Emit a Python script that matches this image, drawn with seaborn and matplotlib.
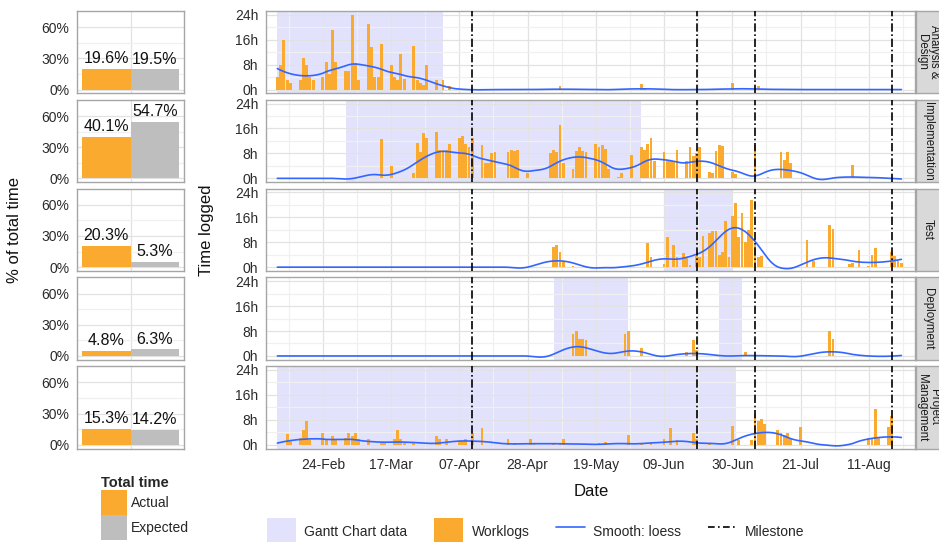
import numpy as np
import pandas as pd
import matplotlib
matplotlib.use("Agg")
import matplotlib.pyplot as plt
import matplotlib.dates as mdates
from matplotlib.ticker import FixedLocator, NullFormatter
from matplotlib.patches import Patch
from matplotlib.lines import Line2D
import seaborn as sns

# ---------------------------------------------------------------- data
PHASES = ["Analysis &\nDesign", "Implementation", "Test", "Deployment", "Project\nManagement"]
ACTUAL_PCT = [19.6, 40.1, 20.3, 4.8, 15.3]
EXPECTED_PCT = [19.5, 54.7, 5.3, 6.3, 14.2]
TOTAL_KINDS = ["Actual", "Expected"]

DATE_TICKS = ["2014-02-24", "2014-03-17", "2014-04-07", "2014-04-28", "2014-05-19",
              "2014-06-09", "2014-06-30", "2014-07-21", "2014-08-11"]
HOUR_TICKS = [0, 8, 16, 24]
PCT_TICKS = [0, 30, 60]

REF_DAY = "2014-02-24"          # worklog day offsets are counted from this date
FIRST_OFFSET, LAST_OFFSET = -14, 178   # logged period: 2014-02-10 .. 2014-08-21
MILESTONES = ["2014-04-11", "2014-06-19", "2014-07-07", "2014-08-18"]

GANTT_START = [["2014-02-10"], ["2014-03-03"], ["2014-06-09"],
               ["2014-05-06", "2014-06-26"], ["2014-02-10"]]
GANTT_END = [["2014-04-02"], ["2014-06-02"], ["2014-06-30"],
             ["2014-05-29", "2014-07-03"], ["2014-07-01"]]

AD_DAYS = [-14, -13, -12, -11, -10, -7, -6, -5, -4, -3, 0, 1, 2, 3, 4, 7, 8, 9, 10, 11,
           14, 15, 16, 17, 18, 21, 22, 23, 24, 25, 28, 29, 30, 31, 32, 35, 37, 39,
           73, 98, 99, 126, 134]
AD_HOURS = [4, 8, 16, 3, 2, 3, 10, 8, 4, 3, 4, 9, 5, 19, 9, 6, 6, 24, 8.5, 3,
            21, 13.5, 4, 4, 14.5, 8, 4, 3, 11.5, 3.5, 14, 3, 2, 1.5, 8, 3, 3, 1.3,
            1.2, 1.8, 0.6, 2.0, 1.3]

IMPL_DAYS = [18, 21, 28, 29, 30, 31, 32, 35, 36, 37, 38, 39, 42, 43, 44, 45, 46,
             49, 50, 51, 52, 53, 57, 58, 59, 60, 63, 70, 71, 72, 73, 74,
             77, 78, 79, 80, 81, 84, 85, 86, 87, 88, 91, 92, 95,
             98, 99, 100, 101, 102, 105, 106, 107, 108, 109, 112, 113, 114, 115, 116,
             119, 120, 121, 122, 123, 126, 127, 133, 137, 141, 142, 143, 144, 163]
IMPL_HOURS = [12.5, 4, 1.6, 11.2, 8.3, 14.7, 13, 15, 9, 9, 9, 11, 13, 13.5, 11, 10, 13,
              10.8, 5, 5, 8, 8.3, 8.6, 9, 8.8, 9, 1.6, 8, 9, 8.5, 17, 5,
              3, 8.8, 10.2, 8.8, 8.3, 11, 10, 10.8, 9.5, 3, 0.5, 1.6, 7.6,
              10, 9, 11, 13, 5.7, 8.6, 5.5, 5.7, 5.7, 9, 5.7, 10, 7.3, 8, 10,
              2.2, 1.6, 8.8, 10.8, 10.5, 2.2, 1.4, 10.8, 0.5, 8.6, 6, 8.6, 5, 4.4]

TEST_DAYS = [71, 72, 73, 74, 77, 100, 101, 105, 106, 108, 109, 111, 112, 113,
             115, 116, 117, 119, 120, 121, 122, 123, 124, 125, 126, 127, 128, 129, 130,
             131, 132, 133, 134, 135, 149, 151, 156, 157, 162, 163, 165,
             168, 169, 170, 175, 176, 177, 178]
TEST_HOURS = [6.4, 7.1, 4.8, 2.0, 0.5, 7.9, 3.4, 0.9, 9.6, 7.1, 3.4, 4.5, 3.0, 0.8,
              3.6, 3.2, 10.1, 10.8, 11.5, 11.7, 4.0, 4.8, 14.7, 3.4, 16.5, 20.5, 9.6, 17.3, 8.0,
              11.8, 21.5, 7.0, 3.2, 3.7, 8.7, 2.1, 13.6, 12.3, 0.9, 1.3, 5.5,
              0.3, 4.0, 6.0, 5.0, 3.7, 2.0, 1.3]

DEPLOY_DAYS = [77, 78, 79, 80, 81, 93, 94, 98, 112, 114, 115, 130, 156, 157]
DEPLOY_HOURS = [7.1, 7.9, 5.5, 5.5, 5.2, 6.9, 7.9, 2.7, 1.3, 5.0, 1.8, 1.3, 7.9, 5.5]

PM_DAYS = [-11, -10, -7, -6, -5, -4, 0, 1, 3, 4, 7, 8, 9, 10, 11, 14, 18, 19,
           22, 23, 24, 25, 28, 35, 36, 38, 42, 43, 44, 46, 49, 57, 59, 64, 65,
           71, 73, 74, 80, 85, 87, 94, 98, 101, 105, 107, 109, 114, 115, 119,
           126, 128, 132, 133, 134, 135, 136, 140, 141, 142, 143, 144, 147,
           168, 169, 170, 171, 174, 175]
PM_HOURS = [3.6, 1.3, 2.3, 4.8, 7.7, 1.5, 3.9, 1.5, 2.9, 1.5, 2.3, 3.9, 2.9, 3.9, 2.0, 1.8, 0.7, 0.7,
            1.8, 4.8, 1.8, 0.7, 0.7, 2.9, 1.8, 1.8, 1.3, 1.3, 1.8, 3.9, 5.5, 1.8, 0.7, 1.8, 0.7,
            0.7, 0.7, 1.8, 0.4, 0.7, 1.0, 3.2, 0.7, 0.7, 1.8, 5.5, 1.6, 3.9, 1.8, 0.7,
            6.0, 1.6, 1.6, 9.8, 7.7, 8.4, 6.6, 4.8, 3.9, 3.2, 3.9, 2.3, 5.8,
            2.3, 2.3, 11.4, 2.3, 5.8, 9.3]

WORK_DAYS = [AD_DAYS, IMPL_DAYS, TEST_DAYS, DEPLOY_DAYS, PM_DAYS]
WORK_HOURS = [AD_HOURS, IMPL_HOURS, TEST_HOURS, DEPLOY_HOURS, PM_HOURS]

# ---------------------------------------------------------------- style
ORANGE = "#FBAA30"
GREY = "#BEBEBE"
GANTT_RGBA = (0.25, 0.25, 0.92, 0.15)
SMOOTH = "#3366FF"
BORDER = "#A6A6A6"
TXT = "#2B2B2B"
DASHDOT = (0, (5, 1.6, 1, 1.6))

sns.set_theme(style="white")
plt.rcParams["font.family"] = ["Liberation Sans", "DejaVu Sans"]

W, H = 939, 542
fig = plt.figure(figsize=(W / 100, H / 100), dpi=100)


def rect(x0, y0, x1, y1):
    return [x0 / W, 1 - y1 / H, (x1 - x0) / W, (y1 - y0) / H]


ROW_TOP = [11, 99.8, 188.6, 277.4, 366.2]
ROW_H = 82.3
LEFT_X = (77, 184)
RIGHT_X = (266, 915)
STRIP_X = (916, 940)


def loess(x, y, span=0.17, degree=2):
    n = len(x)
    q = max(int(np.floor(span * n)), degree + 2)
    out = np.empty(n)
    for i, x0 in enumerate(x):
        d = np.abs(x - x0)
        h = np.sort(d)[q - 1] * 1.0001
        w = np.clip(1 - (d / h) ** 3, 0, None) ** 3
        coef = np.polyfit(x - x0, y, degree, w=np.sqrt(w))
        out[i] = coef[-1]
    return out


def style_panel(ax):
    ax.set_facecolor("white")
    for s in ax.spines.values():
        s.set_color(BORDER)
        s.set_linewidth(1.0)
    ax.set_axisbelow(True)
    ax.grid(which="major", color="#E2E2E2", lw=0.9)
    ax.grid(which="minor", color="#F0F0F0", lw=0.9)
    ax.tick_params(which="major", length=3.5, width=0.8, color="#333333",
                   labelsize=10, labelcolor=TXT, pad=2)
    ax.tick_params(which="minor", length=0)
    ax.set_xlabel("")
    ax.set_ylabel("")


base = mdates.date2num(pd.Timestamp(REF_DAY))
all_offsets = np.arange(FIRST_OFFSET, LAST_OFFSET + 1)
all_x = base + all_offsets
tick_x = [mdates.date2num(pd.Timestamp(d)) for d in DATE_TICKS]
minor_x = [t - 10.5 for t in tick_x] + [tick_x[-1] + 10.5]

for i, phase in enumerate(PHASES):
    top = ROW_TOP[i]
    bottom_row = i == len(PHASES) - 1

    # ---------------- left: share of total time
    axl = fig.add_axes(rect(LEFT_X[0], top, LEFT_X[1], top + ROW_H))
    df = pd.DataFrame({"grp": ["", ""], "kind": TOTAL_KINDS,
                       "pct": [ACTUAL_PCT[i] / 100, EXPECTED_PCT[i] / 100]})
    sns.barplot(data=df, x="grp", y="pct", hue="kind", palette=[ORANGE, GREY],
                hue_order=TOTAL_KINDS, width=1.0, saturation=1, legend=False,
                linewidth=0, ax=axl)
    style_panel(axl)
    for p in axl.patches:
        axl.annotate(f"{p.get_height() * 100:.1f}%",
                     (p.get_x() + p.get_width() / 2, p.get_height()),
                     xytext=(0, 2), textcoords="offset points",
                     ha="center", va="bottom", fontsize=11.5, color="#111111")
    axl.set_xlim(-0.55, 0.55)
    axl.set_ylim(-0.036, 0.756)
    axl.set_yticks([t / 100 for t in PCT_TICKS])
    axl.set_yticklabels([f"{t}%" for t in PCT_TICKS])
    axl.yaxis.set_minor_locator(FixedLocator([0.15, 0.45]))
    axl.set_xticks([0])
    axl.set_xticklabels([""])
    if not bottom_row:
        axl.tick_params(axis="x", which="major", length=0)
    axl.tick_params(axis="y", labelsize=10)

    # ---------------- right: daily worklogs
    axr = fig.add_axes(rect(RIGHT_X[0], top, RIGHT_X[1], top + ROW_H))
    for gs, ge in zip(GANTT_START[i], GANTT_END[i]):
        axr.axvspan(mdates.date2num(pd.Timestamp(gs)), mdates.date2num(pd.Timestamp(ge)),
                    color=GANTT_RGBA, lw=0, zorder=0.5)
    wx = base + np.array(WORK_DAYS[i], dtype=float)
    sns.histplot(x=wx, weights=WORK_HOURS[i], discrete=True, shrink=0.85,
                 color=ORANGE, alpha=1, linewidth=0, ax=axr, zorder=2)

    daily = pd.Series(0.0, index=all_offsets)
    daily.loc[WORK_DAYS[i]] = WORK_HOURS[i]
    sm = loess(all_x.astype(float), daily.values, span=0.17)
    sns.lineplot(x=all_x, y=sm, color=SMOOTH, lw=1.2, ax=axr, zorder=3)

    for m in MILESTONES:
        axr.axvline(mdates.date2num(pd.Timestamp(m)), color="black", lw=1.2,
                    linestyle=DASHDOT, zorder=4)

    style_panel(axr)
    axr.set_xlim(base - 17.5, base + 182.2)
    axr.set_ylim(-1.2, 25.2)
    axr.set_yticks(HOUR_TICKS)
    axr.set_yticklabels([f"{h}h" for h in HOUR_TICKS])
    axr.yaxis.set_minor_locator(FixedLocator([4, 12, 20]))
    axr.xaxis.set_major_locator(FixedLocator(tick_x))
    axr.xaxis.set_minor_locator(FixedLocator(minor_x))
    if bottom_row:
        axr.xaxis.set_major_formatter(mdates.DateFormatter("%d-%b"))
        axr.tick_params(axis="x", labelsize=10, pad=3)
    else:
        axr.xaxis.set_major_formatter(NullFormatter())
        axr.tick_params(axis="x", which="major", length=0)

    # ---------------- facet strip
    axs = fig.add_axes(rect(STRIP_X[0], top, STRIP_X[1], top + ROW_H))
    axs.set_facecolor("#D9D9D9")
    for s in axs.spines.values():
        s.set_color(BORDER)
        s.set_linewidth(1.0)
    axs.set_xticks([])
    axs.set_yticks([])
    axs.text(0.5, 0.5, phase, rotation=270, ha="center", va="center",
             transform=axs.transAxes, fontsize=8.3, color="#1A1A1A",
             linespacing=1.0, multialignment="center", clip_on=True)

# ---------------------------------------------------------------- titles
fig.text(15 / W, 1 - 230 / H, "% of total time", rotation=90, ha="center", va="center",
         fontsize=12, color="#111111")
fig.text(207 / W, 1 - 230 / H, "Time logged", rotation=90, ha="center", va="center",
         fontsize=12, color="#111111")
fig.text(591 / W, 1 - 492 / H, "Date", ha="center", va="center", fontsize=12,
         color="#111111")

# ---------------------------------------------------------------- legends
leg1 = fig.legend(handles=[Patch(facecolor=ORANGE, lw=0), Patch(facecolor=GREY, lw=0)],
                  labels=TOTAL_KINDS, title="Total time", loc="upper left",
                  bbox_to_anchor=(101 / W, 1 - 476 / H), frameon=False,
                  fontsize=10, title_fontproperties={"weight": "bold", "size": 10.5},
                  labelspacing=0, handlelength=1.85, handleheight=2.4,
                  handletextpad=0.3, borderpad=0, borderaxespad=0, alignment="left")

leg2 = fig.legend(handles=[Patch(facecolor=GANTT_RGBA, lw=0), Patch(facecolor=ORANGE, lw=0),
                           Line2D([], [], color=SMOOTH, lw=1.2),
                           Line2D([], [], color="black", lw=1.2, linestyle=(0, (4, 2, 1, 2)))],
                  labels=["Gantt Chart data", "Worklogs", "Smooth: loess", "Milestone"],
                  loc="lower left", bbox_to_anchor=(267 / W, -3 / H), ncol=4, frameon=False,
                  fontsize=10, handlelength=2.1, handleheight=2.6, handletextpad=0.6,
                  columnspacing=1.9, borderpad=0, borderaxespad=0)

fig.savefig("out.png", dpi=100)
